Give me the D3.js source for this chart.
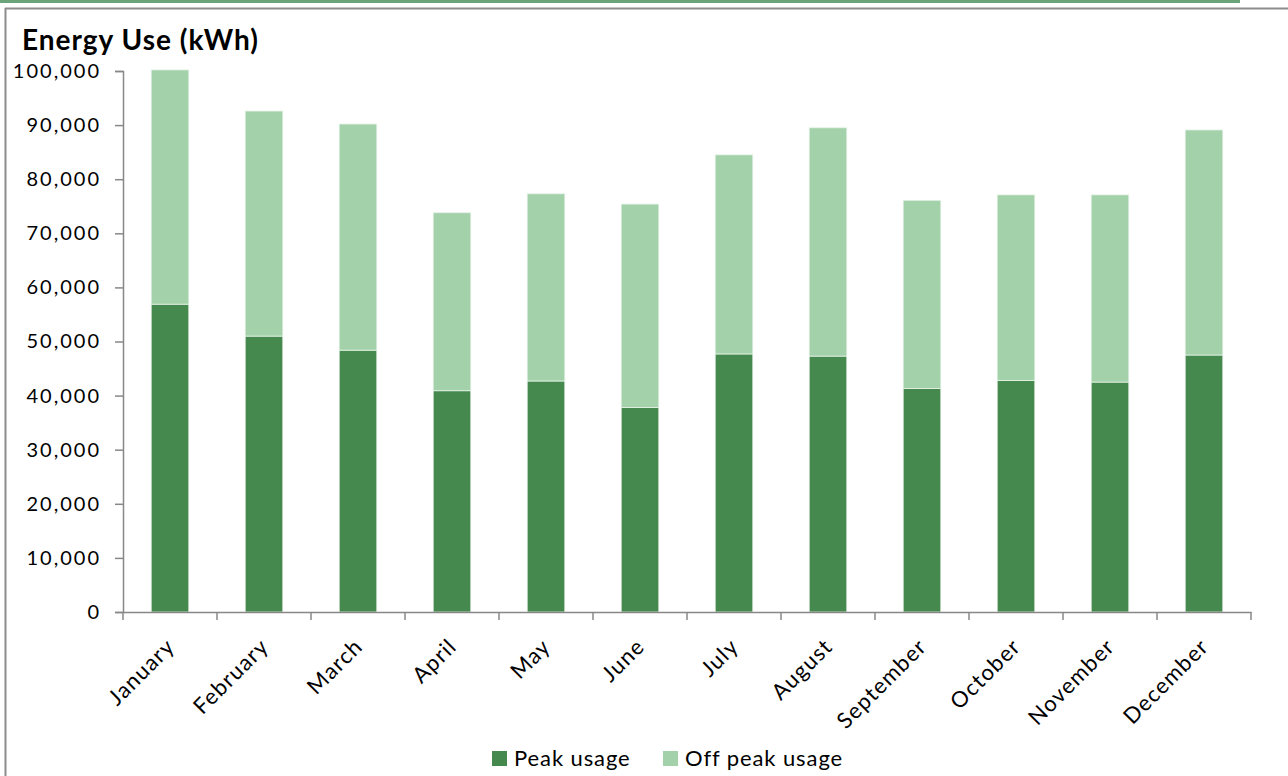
<!DOCTYPE html>
<html>
<head>
<meta charset="utf-8">
<script src="https://cdn.jsdelivr.net/npm/d3@7"></script>
<style>
  body { margin: 0; background: #fff; }
  text { font-family: Lato, "Open Sans", sans-serif; fill: #000; }
</style>
</head>
<body>
<svg id="chart" width="1288" height="776"></svg>
<script>
// data
var months = ["January", "February", "March", "April", "May", "June",
              "July", "August", "September", "October", "November", "December"];
var peak    = [56900, 51000, 48400, 40900, 42700, 37800, 47700, 47300, 41300, 42800, 42500, 47500];
var offPeak = [43300, 41600, 41800, 32900, 34600, 37600, 36800, 42200, 34800, 34300, 34600, 41600];
var seriesNames = ["Peak usage", "Off peak usage"];
var yTicks = [0, 10000, 20000, 30000, 40000, 50000, 60000, 70000, 80000, 90000, 100000];

var svg = d3.select("#chart"),
    colors = ["#45894f", "#a3d1a9"],
    fmt = d3.format(",");

// frame
svg.append("rect").attr("x", 0).attr("y", 0).attr("width", 1240).attr("height", 3).attr("fill", "#6ba37a");
svg.append("line").attr("x1", 5).attr("x2", 1288).attr("y1", 8.5).attr("y2", 8.5).attr("stroke", "#8c8c8c").attr("stroke-width", 2);
svg.append("line").attr("x1", 5.5).attr("x2", 5.5).attr("y1", 8).attr("y2", 776).attr("stroke", "#8c8c8c").attr("stroke-width", 2);

var margin = {left: 123, right: 1251, top: 71, bottom: 612};

var x = d3.scaleBand().domain(months).range([margin.left, margin.right]).paddingInner(0.6).paddingOuter(0.3);
var xb = d3.scaleBand().domain(months).range([margin.left, margin.right]);
var y = d3.scaleLinear().domain([0, 100000]).range([margin.bottom, margin.top]);

var table = months.map(function(m, i) { return {month: m, peak: peak[i], off: offPeak[i]}; });
var stack = d3.stack().keys(["peak", "off"])(table);

// title
svg.append("text").attr("x", 22).attr("y", 50)
  .style("font-size", "28px").style("font-weight", "bold").style("letter-spacing", "1px")
  .text("Energy Use (kWh)");

// bars
svg.selectAll("g.series")
  .data(stack)
  .enter().append("g")
    .attr("class", "series")
    .attr("fill", function(d, i) { return colors[i]; })
  .selectAll("rect")
    .data(function(d) { return d; })
  .enter().append("rect")
    .attr("x", function(d) { return x(d.data.month); })
    .attr("width", x.bandwidth())
    .attr("y", function(d) { return y(d[1]); })
    .attr("height", function(d) { return y(d[0]) - y(d[1]); })
    .attr("stroke", "#e6f2e8").attr("stroke-width", 0.8);

// y axis
var yAxis = svg.append("g").attr("transform", "translate(" + margin.left + ",0)")
  .call(d3.axisLeft(y).tickValues(yTicks).tickFormat(fmt).tickSize(8).tickPadding(14));
yAxis.select(".domain").attr("stroke", "#888").attr("stroke-width", 1.5);
yAxis.selectAll(".tick line").attr("stroke", "#888").attr("stroke-width", 1.5);
yAxis.selectAll("text").style("font-size", "20px").style("letter-spacing", "2px")
  .style("font-family", "Lato, sans-serif").attr("fill", "#000");

// x axis
var xAxis = svg.append("g").attr("transform", "translate(0," + margin.bottom + ")")
  .call(d3.axisBottom(xb).tickSize(0).tickFormat(""));
xAxis.select(".domain").attr("stroke", "#888").attr("stroke-width", 1.5);
var edges = months.map(function(m) { return xb(m); }).concat([margin.right]);
xAxis.selectAll("line.edge").data(edges).enter().append("line")
  .attr("class", "edge")
  .attr("x1", function(d) { return d; }).attr("x2", function(d) { return d; })
  .attr("y1", 0).attr("y2", 8)
  .attr("stroke", "#888").attr("stroke-width", 1.5);
xAxis.selectAll("text.lbl").data(months).enter().append("text")
  .attr("class", "lbl")
  .attr("text-anchor", "end")
  .attr("transform", function(d) {
    return "translate(" + (xb(d) + xb.bandwidth() / 2 + 6) + ",36) rotate(-45)";
  })
  .style("font-size", "22px").style("letter-spacing", "1.2px")
  .text(function(d) { return d; });

// legend
var legend = svg.append("g").attr("transform", "translate(492,751)");
var lx = [0, 171];
seriesNames.forEach(function(name, i) {
  legend.append("rect").attr("x", lx[i]).attr("y", 0).attr("width", 15).attr("height", 15).attr("fill", colors[i]);
  legend.append("text").attr("x", lx[i] + 22).attr("y", 15).style("font-size", "22px")
    .style("letter-spacing", "0.9px").text(name);
});
</script>
</body>
</html>
